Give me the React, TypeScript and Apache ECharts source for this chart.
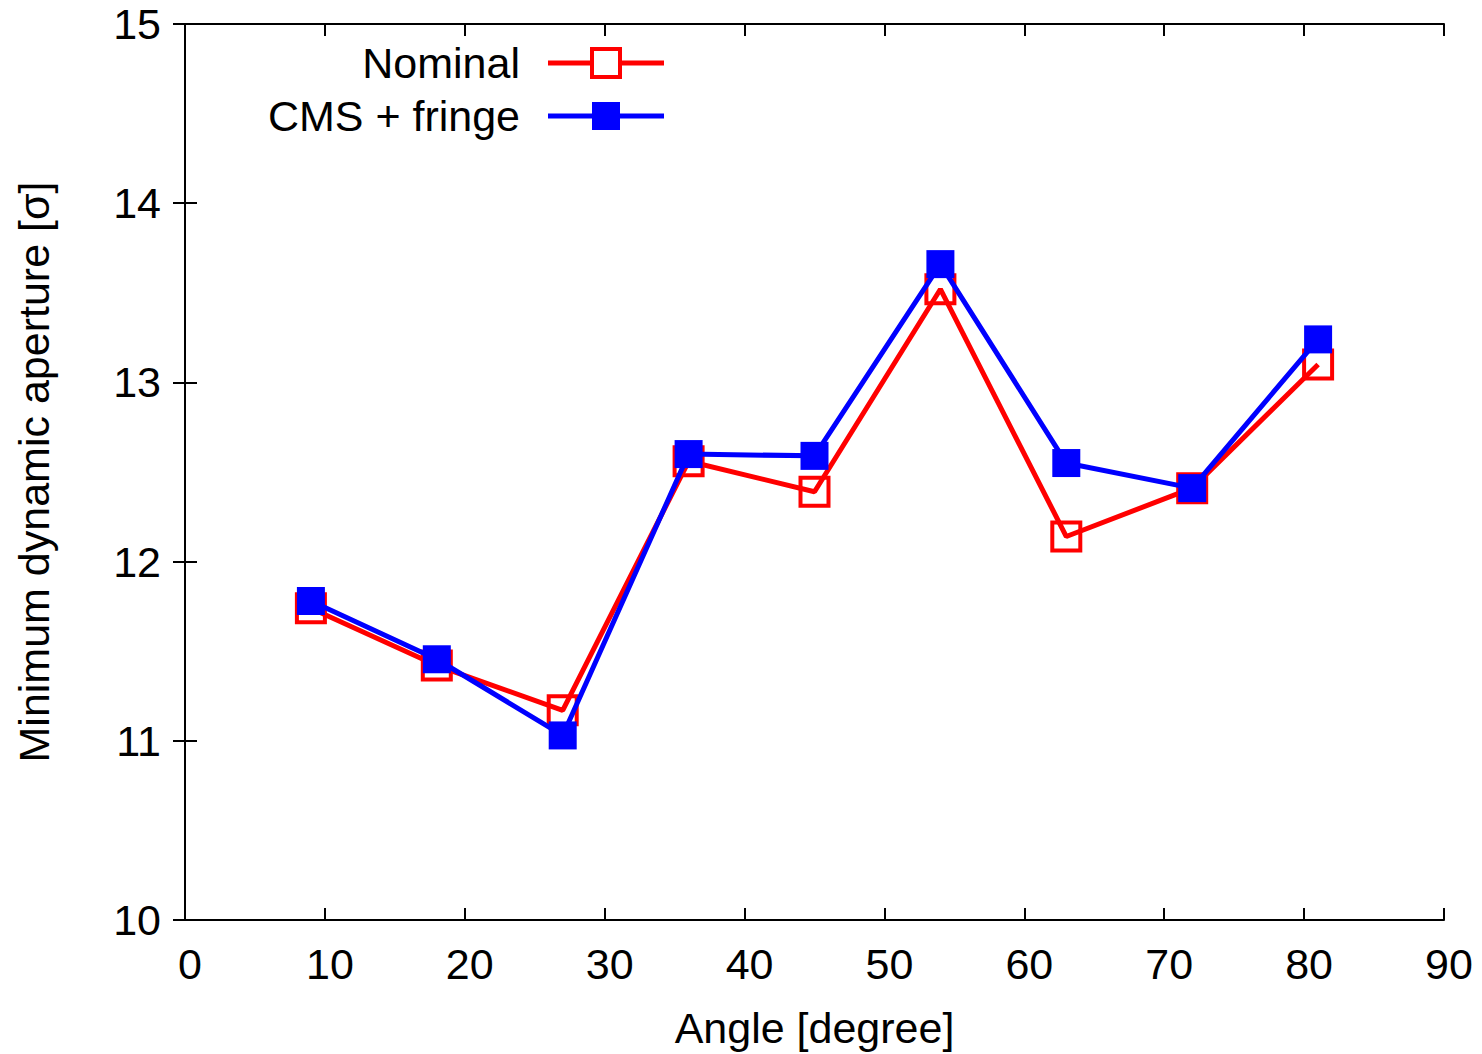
import React, { useEffect, useRef } from "react";
import * as echarts from "echarts";

const angles = [9, 18, 27, 36, 45, 54, 63, 72, 81];
const nominal = [11.74, 11.42, 11.17, 12.56, 12.39, 13.52, 12.14, 12.41, 13.1];
const cmsFringe = [11.78, 11.455, 11.03, 12.6, 12.59, 13.66, 12.55, 12.41, 13.24];
const seriesNames = ["Nominal", "CMS + fringe"];
const xLabelName = "Angle [degree]";
const yLabelName = "Minimum dynamic aperture [σ]";

const RED = "#ff0000";
const BLUE = "#0000ff";
const FONT = "Liberation Sans";
const FS = 43;

export default function App() {
  const ref = useRef<HTMLDivElement>(null);
  useEffect(() => {
    if (!ref.current) return;
    const chart = echarts.init(ref.current, null, { renderer: "svg" });
    const axisLine = { show: true, lineStyle: { color: "#000", width: 2 } };
    const tick = { show: true, inside: true, length: 12, lineStyle: { color: "#000", width: 2 } };
    const grid = { left: 185, top: 24, right: 38, bottom: 133 };
    const legendTextRight = 520;
    const legendLineL = 548;
    const legendLineR = 664;
    const legendRows = [63, 116];
    const graphics: any[] = [];
    seriesNames.forEach((n, i) => {
      const y = legendRows[i];
      const c = i === 0 ? RED : BLUE;
      graphics.push({
        type: "text",
        x: legendTextRight,
        y,
        style: { text: n, font: `${FS}px ${FONT}`, fill: "#000", textAlign: "right", textVerticalAlign: "middle" },
      });
      graphics.push({
        type: "line",
        shape: { x1: legendLineL, y1: y, x2: legendLineR, y2: y },
        style: { stroke: c, lineWidth: 5 },
      });
      const mid = (legendLineL + legendLineR) / 2;
      graphics.push({
        type: "rect",
        shape: { x: mid - 14, y: y - 14, width: 28, height: 28 },
        style: i === 0 ? { fill: "#fff", stroke: RED, lineWidth: 4 } : { fill: BLUE },
      });
    });
    chart.setOption({
      animation: false,
      backgroundColor: "#fff",
      grid,
      xAxis: [
        {
          type: "value",
          min: 0,
          max: 90,
          interval: 10,
          position: "bottom",
          axisLine,
          axisTick: tick,
          splitLine: { show: false },
          axisLabel: { color: "#000", fontSize: FS, fontFamily: FONT, margin: 22, padding: [0, 0, 0, 10] },
          name: xLabelName,
          nameLocation: "middle",
          nameGap: 86,
          nameTextStyle: { color: "#000", fontSize: FS, fontFamily: FONT },
        },
        {
          type: "value",
          min: 0,
          max: 90,
          interval: 10,
          position: "top",
          axisLine,
          axisTick: tick,
          splitLine: { show: false },
          axisLabel: { show: false },
        },
      ],
      yAxis: [
        {
          type: "value",
          min: 10,
          max: 15,
          interval: 1,
          position: "left",
          axisLine,
          axisTick: tick,
          splitLine: { show: false },
          axisLabel: { color: "#000", fontSize: FS, fontFamily: FONT, margin: 24 },
          name: yLabelName,
          nameLocation: "middle",
          nameGap: 130,
          nameTextStyle: { color: "#000", fontSize: FS, fontFamily: FONT },
        },
        {
          type: "value",
          min: 10,
          max: 15,
          interval: 1,
          position: "right",
          axisLine,
          axisTick: tick,
          splitLine: { show: false },
          axisLabel: { show: false },
        },
      ],
      series: [
        {
          name: seriesNames[0],
          type: "line",
          data: angles.map((a, i) => [a, nominal[i]]),
          symbol: "rect",
          symbolSize: 28,
          lineStyle: { color: RED, width: 5 },
          itemStyle: { color: "rgba(0,0,0,0)", borderColor: RED, borderWidth: 4 },
          z: 2,
        },
        {
          name: seriesNames[1],
          type: "line",
          data: angles.map((a, i) => [a, cmsFringe[i]]),
          symbol: "rect",
          symbolSize: 28,
          lineStyle: { color: BLUE, width: 5 },
          itemStyle: { color: BLUE, borderWidth: 0 },
          z: 3,
        },
      ],
      graphic: graphics,
    });
    return () => chart.dispose();
  }, []);
  return (
    <div
      ref={ref}
      style={{ position: "fixed", left: 0, top: 0, width: 1482, height: 1054, background: "#fff" }}
    />
  );
}
